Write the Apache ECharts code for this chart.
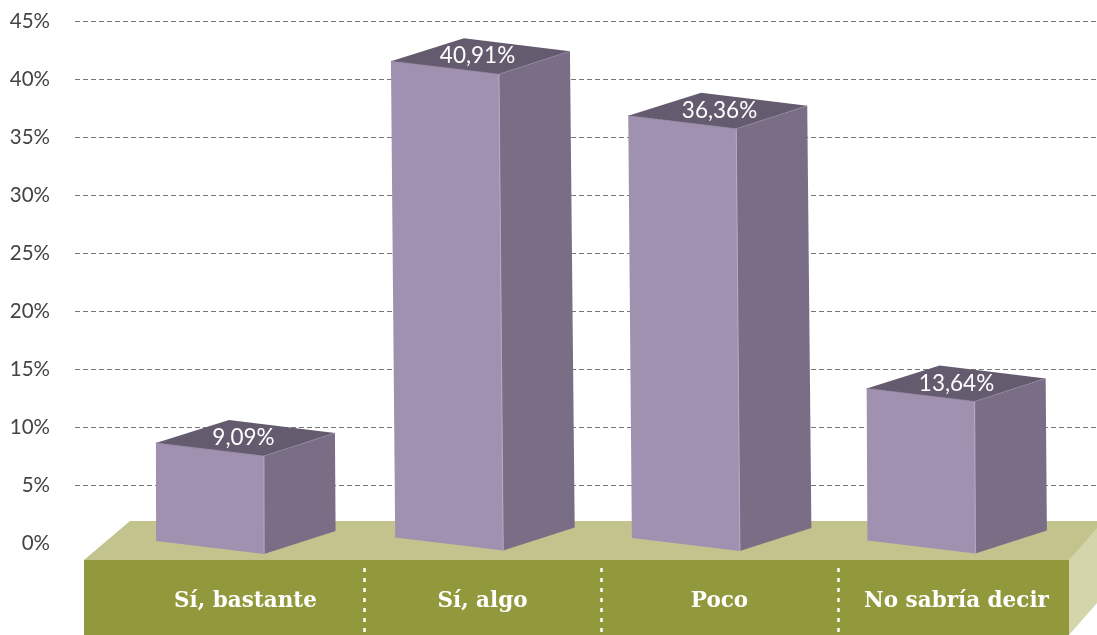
<!DOCTYPE html>
<html lang="es">
<head>
    <meta charset="UTF-8">
    <title>Sí, bastante / Sí, algo / Poco / No sabría decir</title>
    <script src="https://cdn.jsdelivr.net/npm/echarts@6/dist/echarts.min.js"></script>
    <style>
        html, body { margin: 0; padding: 0; background: #fff; }
        #main { width: 1097px; height: 635px; }
    </style>
</head>
<body>
<div id="main"></div>
<script>
    var categories = ['Sí, bastante', 'Sí, algo', 'Poco', 'No sabría decir'];
    var values = [9.09, 40.91, 36.36, 13.64];
    var axisMax = 45;
    var axisStep = 5;

    var myChart = echarts.init(document.getElementById('main'));

    // the boxes sit on the front plane of the floor, so they get their own scale
    var FRONT_W = 108;
    var labelShift = [-2, -5, 0, 0];

    function poly(pts, color) {
        return { type: 'polygon', shape: { points: pts }, style: { fill: color } };
    }
    function edge(a, b, color, dash) {
        return {
            type: 'line',
            shape: { x1: a[0], y1: a[1], x2: b[0], y2: b[1] },
            style: { stroke: color, lineWidth: 1, lineDash: dash || null }
        };
    }

    function renderBox(params, api) {
        var i = api.value(0);
        var v = api.value(1);
        var zero = api.coord([i, 0]);
        var topY = api.coord([i, v])[1];
        var c = zero[0];
        var H = zero[1] - topY;

        // slight lean of the tall boxes
        var baseL = c - 90 + H * 0.0055;
        var topL = c - 89 - H * 0.0052;
        var baseMid = zero[1] - (10 + H * 0.0094);

        var fl = [topL, topY - 6.5];
        var fr = [topL + FRONT_W, topY + 6.5];
        var br = [fr[0] + 71, fr[1] - 23];
        var bl = [fl[0] + 73, fl[1] - 23];
        var gfl = [baseL, baseMid - 6.5];
        var gfr = [baseL + FRONT_W, baseMid + 6.5];
        var gbr = [gfr[0] + 71.5, gfr[1] - 23];

        var children = [
            poly([fl, fr, gfr, gfl], '#a191b1'),
            poly([fr, br, gbr, gfr], '#7a6e87'),
            poly([fl, fr, br, bl], '#655b6f'),
            edge(fr, gfr, '#b7abc4'),
            edge(fl, fr, '#8d7f9c', [2, 1]),
            edge(fr, br, '#9589a3', [2, 1]),
            {
                type: 'text',
                style: {
                    x: c + labelShift[i],
                    y: topY - 11.5,
                    text: v.toFixed(2).replace('.', ',') + '%',
                    fill: '#fff',
                    font: '400 22.5px Lato',
                    align: 'center',
                    verticalAlign: 'middle'
                }
            }
        ];

        // dotted separator between categories
        if (i > 0) {
            var sx = c - api.size([1, 0])[0] / 2 + 0.5;
            children.push({
                type: 'line',
                z2: 5,
                shape: { x1: sx, y1: 568, x2: sx, y2: 635 },
                style: { stroke: '#fff', lineWidth: 2.5, lineDash: [4, 6] }
            });
        }
        return { type: 'group', children: children };
    }

    var boxData = values.map(function (v, i) { return [i, v]; });

    myChart.setOption({
        animation: false,
        backgroundColor: '#fff',
        grid: [
            { left: 75, right: 0, top: 21, height: 522 },
            { left: 127, width: 948, top: 18.6, height: 540 }
        ],
        xAxis: [
            { type: 'category', gridIndex: 0, show: false, data: categories },
            {
                type: 'category',
                gridIndex: 1,
                data: categories,
                z: 5,
                axisLine: { show: false },
                axisTick: { show: false },
                axisLabel: {
                    interval: 0,
                    margin: 32,
                    color: '#fff',
                    fontFamily: 'DejaVu Serif',
                    fontWeight: 'bold',
                    fontSize: 21.5
                }
            }
        ],
        yAxis: [
            {
                type: 'value',
                gridIndex: 0,
                min: 0,
                max: axisMax,
                interval: axisStep,
                axisLine: { show: false },
                axisTick: { show: false },
                axisLabel: {
                    margin: 25,
                    color: '#444',
                    fontFamily: 'Lato',
                    fontSize: 20.5,
                    formatter: '{value}%'
                },
                splitLine: {
                    show: true,
                    showMinLine: false,
                    lineStyle: { color: '#777', width: 1, type: [5, 3] }
                }
            },
            { type: 'value', gridIndex: 1, min: 0, max: axisMax, show: false, splitLine: { show: false } }
        ],
        // floor of the chart
        graphic: [
            {
                type: 'polygon', z: 1, silent: true,
                shape: { points: [[84, 560], [130, 521], [1115, 521], [1069, 560]] },
                style: { fill: '#c3c38e' }
            },
            {
                type: 'polygon', z: 1, silent: true,
                shape: { points: [[1069, 560], [1097, 528], [1097, 603], [1069, 635]] },
                style: { fill: '#d5d5ab' }
            },
            {
                type: 'rect', z: 1, silent: true,
                shape: { x: 84, y: 560, width: 985, height: 75 },
                style: { fill: '#92993c' }
            }
        ],
        series: [{
            type: 'custom',
            xAxisIndex: 1,
            yAxisIndex: 1,
            z: 3,
            clip: false,
            renderItem: renderBox,
            data: boxData
        }]
    });
</script>
</body>
</html>
